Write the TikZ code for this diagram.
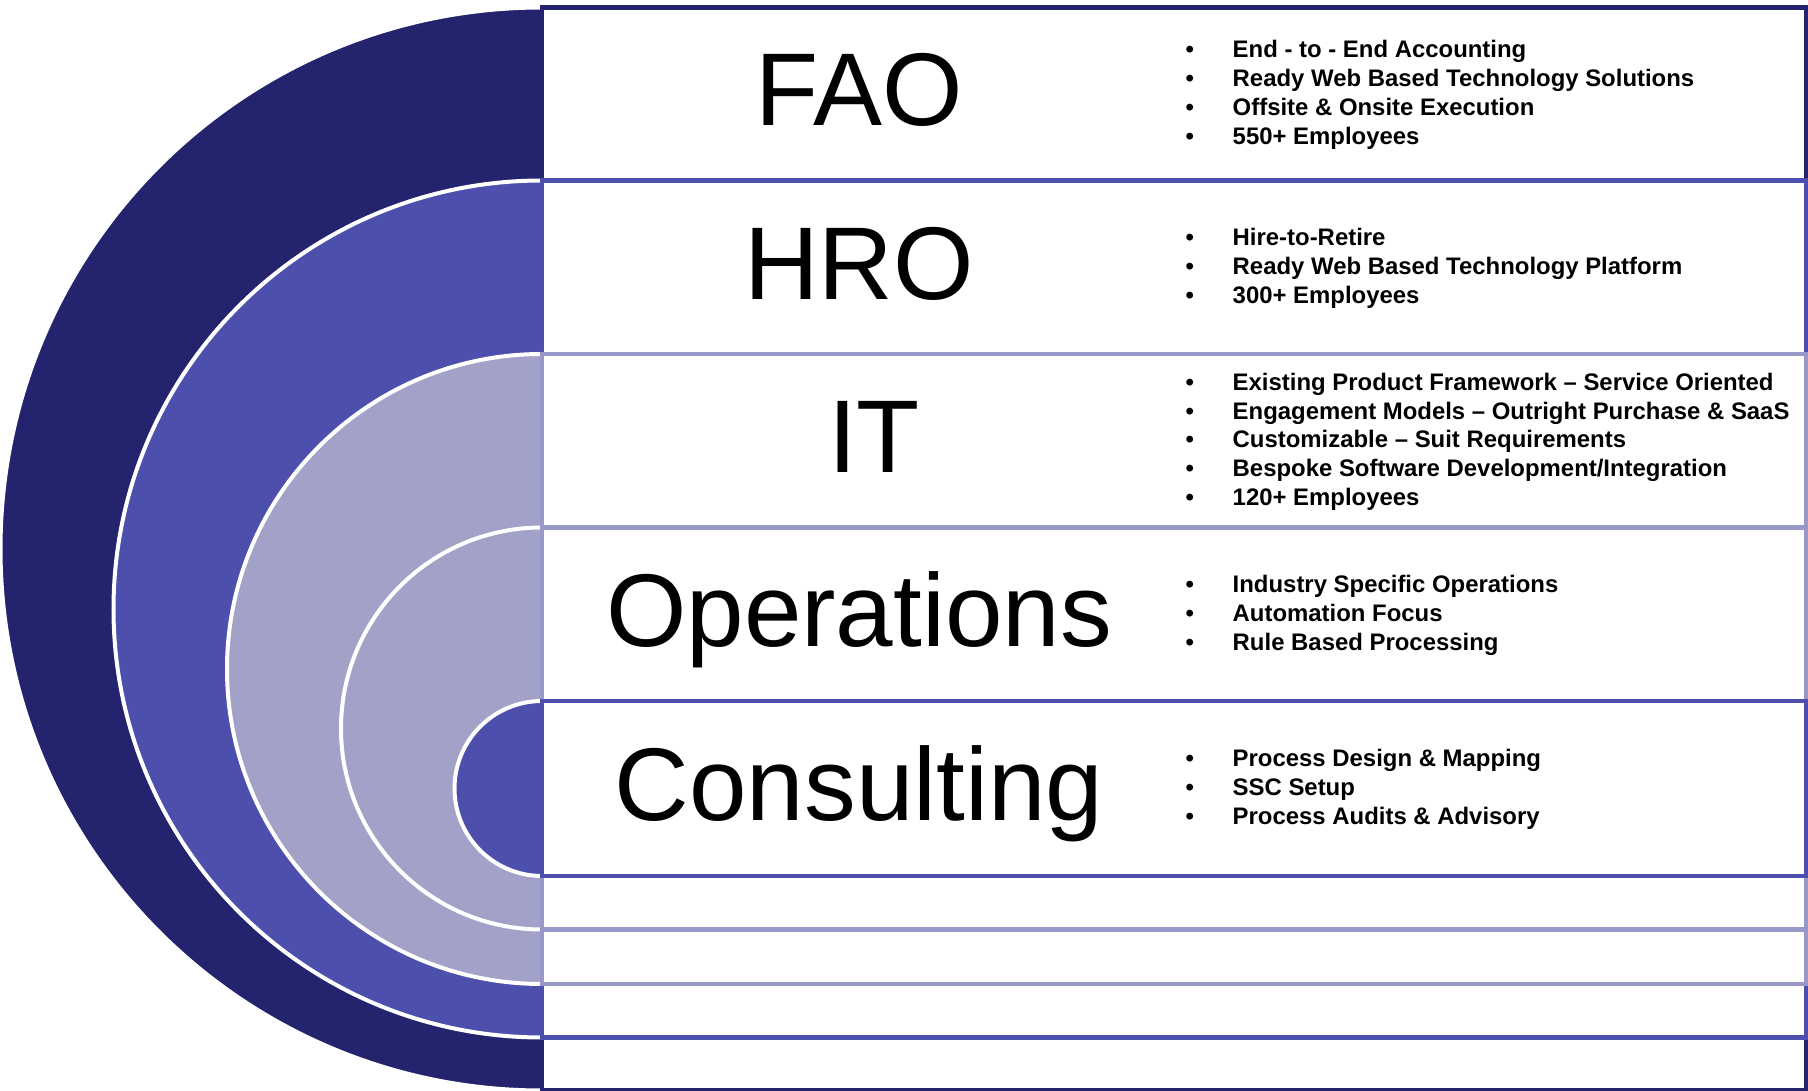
\documentclass[tikz,border=0pt]{standalone}
\usepackage{fontspec}
\setmainfont{Liberation Sans}
\definecolor{ringnavy}{RGB}{36,35,110}
\definecolor{ringblue}{RGB}{77,79,173}
\definecolor{ringlav}{RGB}{162,162,200}
\definecolor{linelav}{RGB}{152,152,201}
\newcommand{\itm}{\makebox[0.47cm][l]{\textbullet}}
\begin{document}
\begin{tikzpicture}[x=0.01cm,y=0.01cm,
  ring/.style={draw=white,line width=0.04cm},
  panel/.style={fill=white,line width=0.045cm},
  head/.style={font=\fontsize{29.4}{35}\selectfont,anchor=base},
  items/.style={font=\fontsize{6.8}{8.2}\selectfont\bfseries,align=left,anchor=west,inner sep=0pt}]
\useasboundingbox (0,0) rectangle (1808,1090);

%FAO
\coordinate (T1) at (542,1082.5);
\coordinate (R1) at (1806,-0.5);
\fill[ringnavy] (T1) arc[start angle=90,end angle=270,radius=541.5] -- cycle;
\draw[ring] (T1) arc[start angle=90,end angle=270,radius=541.5];
\draw[panel,draw=ringnavy] (T1) rectangle (R1);
\node[head] (fao) at (859,964) {FAO};
\node[items] (faolist) at (1185,995) {\itm End - to - End Accounting\\
  \itm Ready Web Based Technology Solutions\\
  \itm Offsite \& Onsite Execution\\
  \itm 550+ Employees};

%HRO
\coordinate (T2) at (542,909.5);
\coordinate (R2) at (1806,52.5);
\fill[ringblue] (T2) arc[start angle=90,end angle=270,radius=428.5] -- cycle;
\draw[ring] (T2) arc[start angle=90,end angle=270,radius=428.5];
\draw[panel,draw=ringblue] (T2) rectangle (R2);
\node[head] (hro) at (859,790.75) {HRO};
\node[items] (hrolist) at (1185,821.75) {\itm Hire-to-Retire\\
  \itm Ready Web Based Technology Platform\\
  \itm 300+ Employees};

%IT
\coordinate (T3) at (542,736);
\coordinate (R3) at (1806,106);
\fill[ringlav] (T3) arc[start angle=90,end angle=270,radius=315] -- cycle;
\draw[ring] (T3) arc[start angle=90,end angle=270,radius=315];
\draw[panel,draw=linelav] (T3) rectangle (R3);
\node[head] (it) at (874,617.25) {IT};
\node[items] (itlist) at (1185,648.25) {\itm Existing Product Framework – Service Oriented\\
  \itm Engagement Models – Outright Purchase \& SaaS\\
  \itm Customizable – Suit Requirements\\
  \itm Bespoke Software Development/Integration\\
  \itm 120+ Employees};

%Operations
\coordinate (T4) at (542,562.5);
\coordinate (R4) at (1806,160.5);
\fill[ringlav] (T4) arc[start angle=90,end angle=270,radius=201] -- cycle;
\draw[ring] (T4) arc[start angle=90,end angle=270,radius=201];
\draw[panel,draw=linelav] (T4) rectangle (R4);
\node[head] (ops) at (859,443.75) {Operations};
\node[items] (opslist) at (1185,474.75) {\itm Industry Specific Operations\\
  \itm Automation Focus\\
  \itm Rule Based Processing};

%Consulting
\coordinate (T5) at (542,389);
\coordinate (R5) at (1806,214);
\fill[ringblue] (T5) arc[start angle=90,end angle=270,radius=87.5] -- cycle;
\draw[ring] (T5) arc[start angle=90,end angle=270,radius=87.5];
\draw[panel,draw=ringblue] (T5) rectangle (R5);
\node[head] (cons) at (859,269.5) {Consulting};
\node[items] (conslist) at (1185,300.5) {\itm Process Design \& Mapping\\
  \itm SSC Setup\\
  \itm Process Audits \& Advisory};
\end{tikzpicture}
\end{document}
